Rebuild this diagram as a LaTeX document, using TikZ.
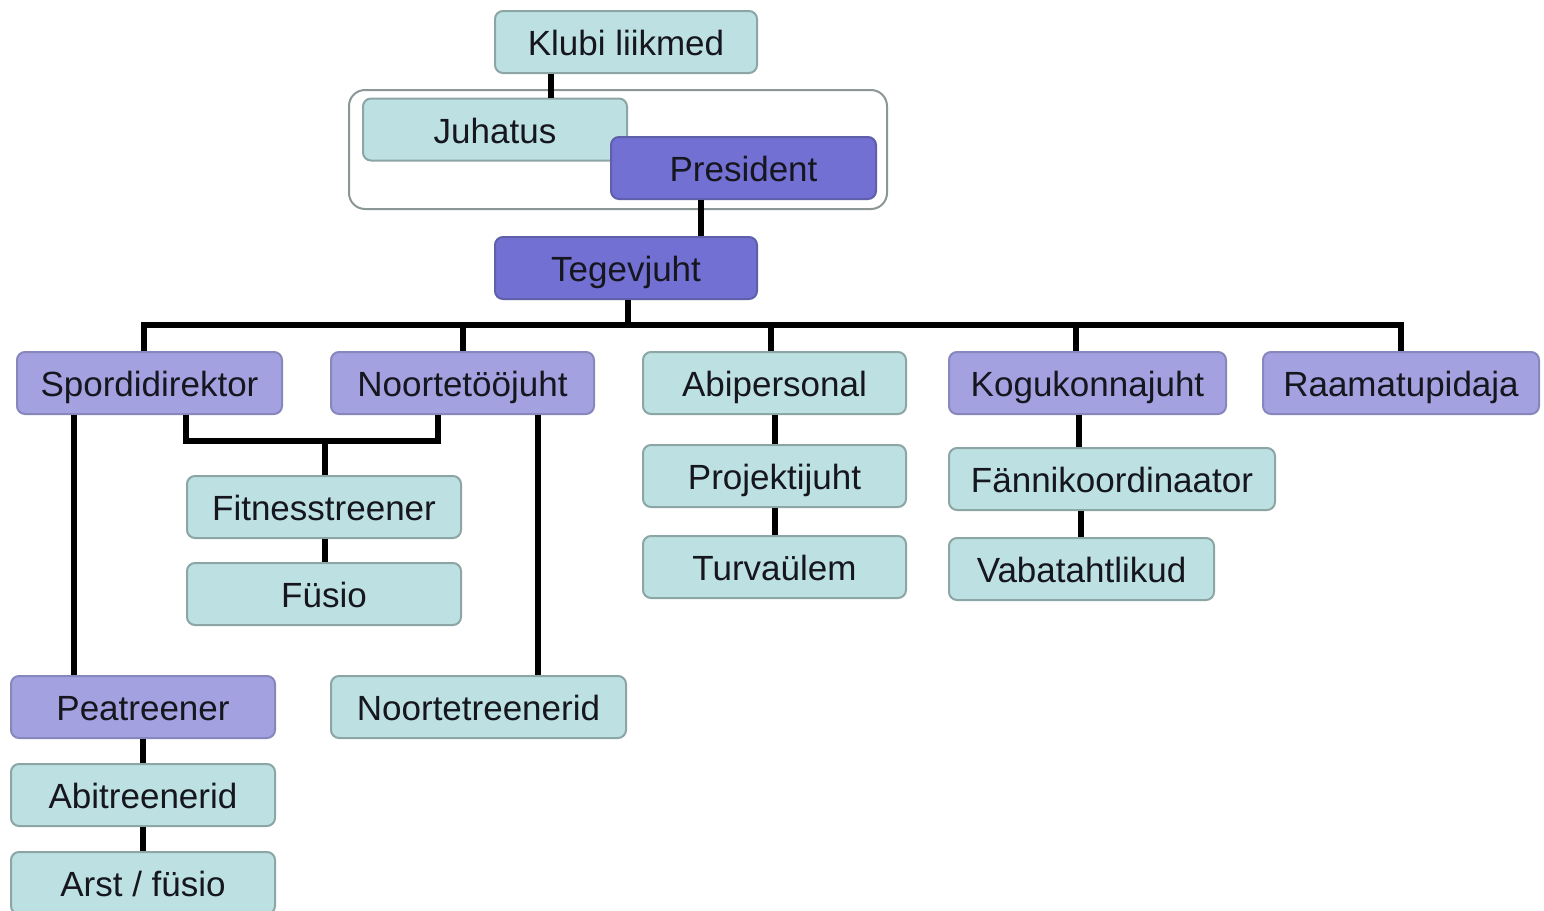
\documentclass[tikz,border=0pt]{standalone}
\usepackage{fontspec}
\setmainfont{Liberation Sans}
\definecolor{teal1}{RGB}{189,225,226}
\definecolor{tealb}{RGB}{140,165,165}
\definecolor{lpur}{RGB}{164,161,224}
\definecolor{lpurb}{RGB}{135,135,190}
\definecolor{dpur}{RGB}{115,112,212}
\definecolor{dpurb}{RGB}{95,95,170}
\definecolor{txt}{RGB}{22,22,30}
\definecolor{grpb}{RGB}{140,150,150}
\tikzset{
  box/.style={rounded corners=4pt, line width=1pt, minimum height=31pt, inner sep=0pt,
    text height=17pt, text depth=3.5pt,
    font=\fontsize{17.5}{20}\selectfont, text=txt, anchor=center},
  tbox/.style={box, fill=teal1, draw=tealb},
  lbox/.style={box, fill=lpur, draw=lpurb},
  dbox/.style={box, fill=dpur, draw=dpurb},
  conn/.style={line width=3pt, black, line join=miter},
  grp/.style={rounded corners=8pt, draw=grpb, line width=1pt, fill=white}
}
\begin{document}
\begin{tikzpicture}[x=0.5pt,y=-0.5pt]
\useasboundingbox[fill=white] (0,0) rectangle (1544,911);
% group box
\node[grp, minimum width=269pt, minimum height=59.5pt, inner sep=0pt] (grp) at (618,149.5) {};
% nodes
\node[tbox, minimum width=131pt] (klubi) at (626,42) {Klubi liikmed};
\node[tbox, minimum width=132pt] (juh) at (495,129.5) {Juhatus};
\node[dbox, minimum width=132.5pt] (pres) at (743.5,168) {President};
\node[dbox, minimum width=131pt] (teg) at (626,268) {Tegevjuht};
\node[lbox, minimum width=132.5pt] (sd) at (149.5,383) {Spordidirektor};
\node[lbox, minimum width=131.5pt] (nt) at (462.5,383) {Noortetööjuht};
\node[tbox, minimum width=131.5pt] (abi) at (774.5,383) {Abipersonal};
\node[lbox, minimum width=138.5pt] (kog) at (1087.5,383) {Kogukonnajuht};
\node[lbox, minimum width=138pt] (raa) at (1401,383) {Raamatupidaja};
\node[tbox, minimum width=137pt] (fit) at (324,507) {Fitnesstreener};
\node[tbox, minimum width=137pt] (fus) at (324,594) {Füsio};
\node[tbox, minimum width=131.5pt] (proj) at (774.5,476) {Projektijuht};
\node[tbox, minimum width=131.5pt] (turv) at (774.5,567) {Turvaülem};
\node[tbox, minimum width=163pt] (fan) at (1112,479) {Fännikoordinaator};
\node[tbox, minimum width=132.5pt] (vab) at (1081.5,569) {Vabatahtlikud};
\node[lbox, minimum width=132pt] (pea) at (143,707) {Peatreener};
\node[tbox, minimum width=147.5pt] (ntr) at (478.5,707) {Noortetreenerid};
\node[tbox, minimum width=132pt] (abt) at (143,795) {Abitreenerid};
\node[tbox, minimum width=132pt] (arst) at (143,883) {Arst / füsio};
% connectors
\draw[conn] (klubi.south -| 551,0) -- (juh.north -| 551,0);
\draw[conn] (pres.south -| 701,0) -- (teg.north -| 701,0);
\coordinate (bus) at (628,325);
\draw[conn] (teg.south -| bus) -- (bus);
\draw[conn] (sd.north -| 144,0) |- (bus) -| (raa.north);
\draw[conn] (nt.north) -- (nt.north |- bus);
\draw[conn] (abi.north -| 771,0) -- (bus -| 771,0);
\draw[conn] (kog.north -| 1076,0) -- (bus -| 1076,0);
\coordinate (fj) at (325,441);
\draw[conn] (sd.south -| 186,0) |- (fj) -| (nt.south -| 438,0);
\draw[conn] (fj) -- (fit.north -| fj);
\draw[conn] (fit.south -| 325,0) -- (fus.north -| 325,0);
\draw[conn] (sd.south -| 74,0) -- (pea.north -| 74,0);
\draw[conn] (nt.south -| 538,0) -- (ntr.north -| 538,0);
\draw[conn] (pea.south) -- (abt.north);
\draw[conn] (abt.south) -- (arst.north);
\draw[conn] (abi.south -| 775,0) -- (proj.north -| 775,0);
\draw[conn] (proj.south -| 775,0) -- (turv.north -| 775,0);
\draw[conn] (kog.south -| 1079,0) -- (fan.north -| 1079,0);
\draw[conn] (fan.south -| 1081,0) -- (vab.north -| 1081,0);
\end{tikzpicture}
\end{document}
